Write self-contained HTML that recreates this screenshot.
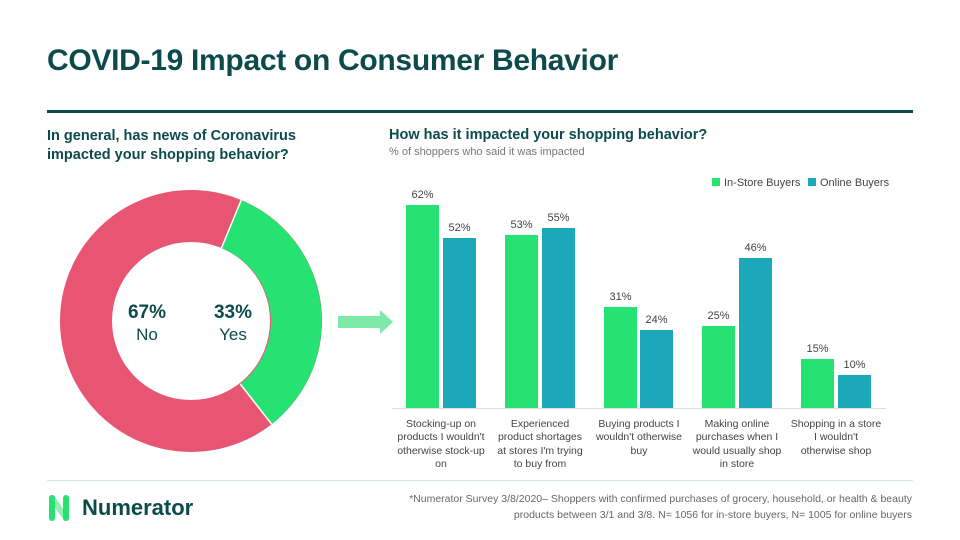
<!DOCTYPE html>
<html><head><meta charset="utf-8"><style>
body{margin:0;width:960px;height:540px;background:#fff;font-family:"Liberation Sans",sans-serif;overflow:hidden;position:relative}
.t{position:absolute;white-space:nowrap}
</style></head><body>
<div class="t" style="left:47px;top:44px;font-size:30px;font-weight:bold;color:#0d4a4c;letter-spacing:-0.3px">COVID-19 Impact on Consumer Behavior</div>
<div style="position:absolute;left:47px;top:110px;width:866px;height:3px;background:#0d4a4c"></div>
<div class="t" style="left:47px;top:127px;font-size:14.5px;font-weight:bold;color:#0d4a4c;line-height:19px">In general, has news of Coronavirus<br>impacted your shopping behavior?</div>
<div class="t" style="left:389px;top:127px;font-size:14.5px;font-weight:bold;color:#0d4a4c">How has it impacted your shopping behavior?</div>
<div class="t" style="left:389px;top:146px;font-size:11px;color:#777">% of shoppers who said it was impacted</div>
<svg width="960" height="540" style="position:absolute;left:0;top:0" font-family="Liberation Sans, sans-serif">
<circle cx="191" cy="321" r="105" fill="none" stroke="#e85572" stroke-width="52"/>
<path d="M241.2,200.2 A131,131 0 0 1 271.7,424.2 L240.2,384.0 A79,79 0 0 0 221.4,248.1 Z" fill="#26e272"/>
<line x1="241.2" y1="200.2" x2="221.4" y2="248.1" stroke="#fff" stroke-width="1.5"/>
<line x1="271.7" y1="424.2" x2="240.2" y2="384.0" stroke="#fff" stroke-width="1.5"/>
<text x="147" y="318" text-anchor="middle" font-size="19" font-weight="bold" fill="#0d4a4c">67%</text>
<text x="147" y="340" text-anchor="middle" font-size="17" fill="#0d4a4c">No</text>
<text x="233" y="318" text-anchor="middle" font-size="19" font-weight="bold" fill="#0d4a4c">33%</text>
<text x="233" y="340" text-anchor="middle" font-size="17" fill="#0d4a4c">Yes</text>
<path d="M338,316 H380 V310 L393,322 L380,334 V328 H338 Z" fill="#7eeaa9"/>
<rect x="712" y="178" width="8" height="8" fill="#26e272"/>
<text x="724" y="186" font-size="11" fill="#444">In-Store Buyers</text>
<rect x="808" y="178" width="8" height="8" fill="#1ba8b8"/>
<text x="820" y="186" font-size="11" fill="#444">Online Buyers</text>
<line x1="392" y1="408.5" x2="886" y2="408.5" stroke="#ddd" stroke-width="1"/>
<g font-size="11" fill="#444" text-anchor="middle">
<rect x="406" y="205" width="33" height="203" fill="#26e272"/><text x="422.5" y="198">62%</text>
<rect x="443" y="238" width="33" height="170" fill="#1ba8b8"/><text x="459.5" y="231">52%</text>
<rect x="505" y="235" width="33" height="173" fill="#26e272"/><text x="521.5" y="228">53%</text>
<rect x="542" y="228" width="33" height="180" fill="#1ba8b8"/><text x="558.5" y="221">55%</text>
<rect x="604" y="307" width="33" height="101" fill="#26e272"/><text x="620.5" y="300">31%</text>
<rect x="640" y="330" width="33" height="78" fill="#1ba8b8"/><text x="656.5" y="323">24%</text>
<rect x="702" y="326" width="33" height="82" fill="#26e272"/><text x="718.5" y="319">25%</text>
<rect x="739" y="258" width="33" height="150" fill="#1ba8b8"/><text x="755.5" y="251">46%</text>
<rect x="801" y="359" width="33" height="49" fill="#26e272"/><text x="817.5" y="352">15%</text>
<rect x="838" y="375" width="33" height="33" fill="#1ba8b8"/><text x="854.5" y="368">10%</text>
</g>
<g font-size="10.5" fill="#444" text-anchor="middle">
<text x="441" y="427">Stocking-up on</text><text x="441" y="440">products I wouldn't</text><text x="441" y="454">otherwise stock-up</text><text x="441" y="467">on</text>
<text x="540" y="427">Experienced</text><text x="540" y="440">product shortages</text><text x="540" y="454">at stores I'm trying</text><text x="540" y="467">to buy from</text>
<text x="639" y="427">Buying products I</text><text x="639" y="440">wouldn't otherwise</text><text x="639" y="454">buy</text>
<text x="737" y="427">Making online</text><text x="737" y="440">purchases when I</text><text x="737" y="454">would usually shop</text><text x="737" y="467">in store</text>
<text x="836" y="427">Shopping in a store</text><text x="836" y="440">I wouldn't</text><text x="836" y="454">otherwise shop</text>
</g>
<line x1="47" y1="480.5" x2="913" y2="480.5" stroke="#d6e4e2" stroke-width="1"/>
<g transform="translate(49,494)">
<path d="M3,4 L17,24" stroke="#8ef0b5" stroke-width="6" stroke-linecap="round"/>
<line x1="3" y1="4" x2="3" y2="24" stroke="#26e272" stroke-width="6" stroke-linecap="round"/>
<line x1="17" y1="4" x2="17" y2="24" stroke="#26e272" stroke-width="6" stroke-linecap="round"/>
</g>
<text x="82" y="515" font-size="22" font-weight="bold" fill="#0d4a4c">Numerator</text>
<g font-size="10.5" fill="#666" text-anchor="end">
<text x="912" y="502">*Numerator Survey 3/8/2020– Shoppers with confirmed purchases of grocery, household, or health &amp; beauty</text>
<text x="912" y="518">products between 3/1 and 3/8. N= 1056 for in-store buyers, N= 1005 for online buyers</text>
</g>
</svg>
</body></html>
